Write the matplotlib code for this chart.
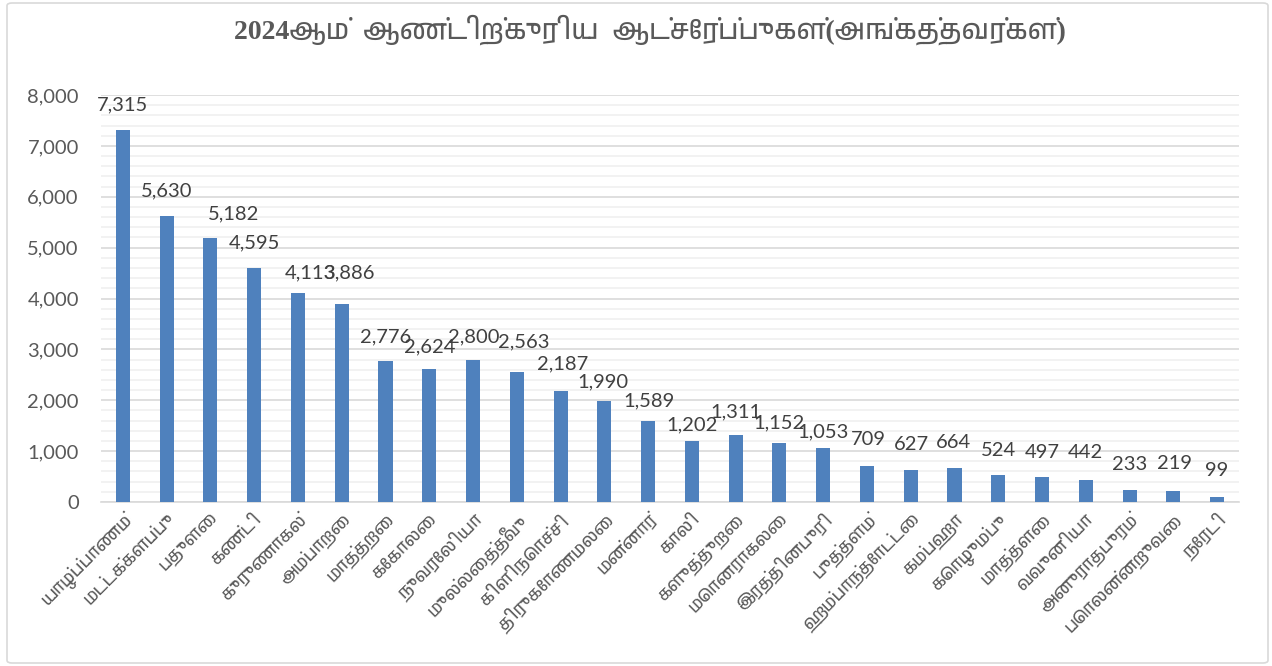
import matplotlib
matplotlib.use("Agg")
import matplotlib.pyplot as plt
from matplotlib import font_manager
from matplotlib.patches import FancyBboxPatch
from matplotlib.ticker import MultipleLocator, FuncFormatter
from fontTools.ttLib import TTFont

# data
districts = ["யாழ்ப்பாணம்", "மட்டக்களப்பு", "பதுளை", "கண்டி", "குருணாகல்", "அம்பாறை",
             "மாத்தறை", "கேகாலை", "நுவரேலியா", "முல்லைத்தீவு", "கிளிநொச்சி", "திருகோணமலை",
             "மன்னார்", "காலி", "களுத்துறை", "மொனராகலை", "இரத்தினபுரி", "புத்தளம்",
             "ஹம்பாந்தோட்டை", "கம்பஹா", "கொழும்பு", "மாத்தளை", "வவுனியா", "அனுராதபுரம்",
             "பொலன்னறுவை", "நேரடி"]
members = [7315, 5630, 5182, 4595, 4113, 3886, 2776, 2624, 2800, 2563, 2187, 1990,
           1589, 1202, 1311, 1152, 1053, 709, 627, 664, 524, 497, 442, 233, 219, 99]
title = "2024ஆம்  ஆண்டிற்குரிய  ஆட்சேர்ப்புகள்(அங்கத்தவர்கள்)"

# nudges of the value labels (pixels), as they sit in the original
label_dx = [0, 0, 23, 0, 12, 7, 0, 0, 1, 7, 2, -1, 1, 0, 0, 0, 0, 1, 1, -1, 0, 0, 0, 0, 1, 0]
label_dy = [25, 25, 24, 25, 20, 31, 24, 22, 23, 30, 27, 19, 20, 16, 23, 21, 17, 26, 26, 26, 25, 24, 27, 26, 27, 26]


def find_tamil_font():
    """first installed family that has Tamil glyphs"""
    fonts = sorted(font_manager.fontManager.ttflist, key=lambda f: "tamil" not in f.name.lower())
    for f in fonts:
        try:
            tt = TTFont(f.fname, fontNumber=0, lazy=True)
            cmap = tt.getBestCmap()
            if cmap and 0x0BA4 in cmap:
                return f.name
        except Exception:
            continue
    return None


tamil = find_tamil_font()
num_font = ["Lato", "DejaVu Sans"]
label_font = ([tamil] if tamil else []) + ["DejaVu Sans"]
title_font = ["Liberation Serif"] + ([tamil] if tamil else []) + ["DejaVu Sans"]

grey = "#595959"
bar_color = "#4f81bd"

fig = plt.figure(figsize=(12.72, 6.66), dpi=100)
ax = fig.add_axes([101 / 1272, 164 / 666, 1138 / 1272, 407 / 666])

x = list(range(len(members)))
ax.bar(x, members, width=0.32, color=bar_color, zorder=3)

ax.set_xlim(-0.5, len(members) - 0.5)
ax.set_ylim(0, 8000)
ax.yaxis.set_major_locator(MultipleLocator(1000))
ax.yaxis.set_minor_locator(MultipleLocator(200))
ax.yaxis.set_major_formatter(FuncFormatter(lambda v, p: f"{int(v):,}"))
ax.grid(axis="y", which="major", color="#d9d9d9", linewidth=1.2, zorder=0)
ax.grid(axis="y", which="minor", color="#f0f0f0", linewidth=1.2, zorder=0)
ax.set_axisbelow(True)

for s in ["top", "right", "left"]:
    ax.spines[s].set_visible(False)
ax.spines["bottom"].set_color("#d9d9d9")
ax.spines["bottom"].set_linewidth(1.2)

ax.tick_params(axis="y", which="both", length=0, pad=16, labelcolor=grey)
ax.tick_params(axis="x", length=0, pad=6, labelcolor=grey)
for lab in ax.get_yticklabels():
    lab.set_family(num_font)
    lab.set_fontsize(14.5)

ax.set_xticks(x)
ax.set_xticklabels(districts, rotation=45, ha="right", rotation_mode="anchor",
                   family=label_font, fontsize=12.5, color=grey)

# value labels
for i, v in enumerate(members):
    ax.annotate(f"{v:,}", (i, v), xytext=(label_dx[i], label_dy[i]), textcoords="offset pixels",
                ha="center", va="center", family=num_font, fontsize=14.5, color="#404040")

fig.text(650 / 1272, 1 - 30 / 666, title, ha="center", va="center", family=title_font,
         fontsize=20, fontweight="bold", color=grey)

# chart border
border = FancyBboxPatch((7 / 1272, 3 / 666), 1261 / 1272, 660 / 666,
                        boxstyle="round,pad=0,rounding_size=0.004", transform=fig.transFigure,
                        facecolor="none", edgecolor="#d9d9d9", linewidth=1.2)
fig.patches.append(border)

fig.savefig("out.png", dpi=100)
